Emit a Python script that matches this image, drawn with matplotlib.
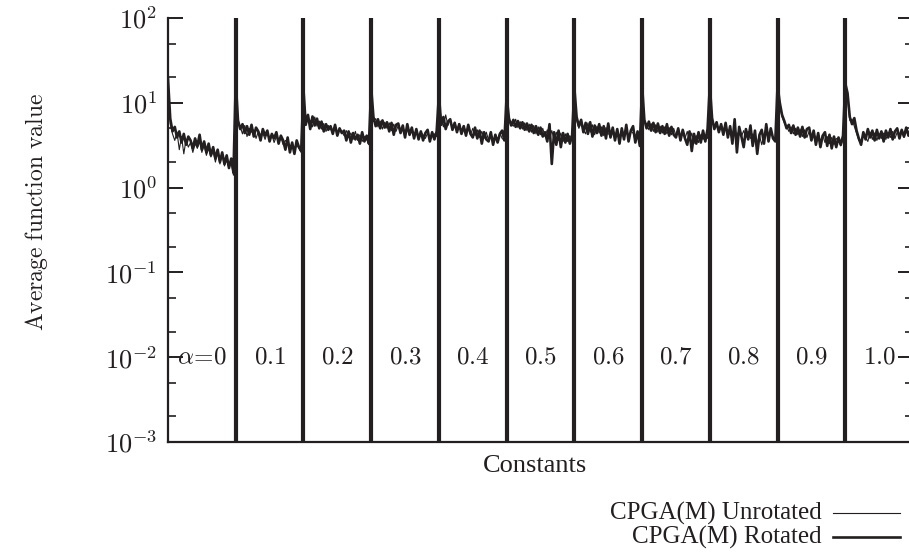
import numpy as np
import matplotlib
matplotlib.use("Agg")
import matplotlib.pyplot as plt
from matplotlib.lines import Line2D
from matplotlib.ticker import LogLocator, NullFormatter, FuncFormatter

plt.rcParams['mathtext.fontset'] = 'cm'
plt.rcParams['font.family'] = ['Liberation Serif', 'DejaVu Serif']

INK = '#231f20'
W, H = 909, 556

# Constant values (one block of runs per constant)
constants = [r'$\alpha\!=\!0$', '$0.1$', '$0.2$', '$0.3$', '$0.4$', '$0.5$',
             '$0.6$', '$0.7$', '$0.8$', '$0.9$', '$1.0$']

# Average function value per run, grouped by constant
rotated = [
    [19.0, 6.5, 4.6, 5.2, 3.9, 4.6, 3.4, 4.3, 3.2, 4.0, 3.6, 2.9, 3.8, 3.1, 4.2, 2.8, 3.5, 2.6, 3.3, 2.4, 3.0, 2.2, 2.8, 2.0, 2.6, 1.9, 2.4, 1.7, 2.2, 1.5],
    [18.0, 6.2, 4.9, 5.6, 4.4, 5.3, 4.2, 5.5, 4.0, 5.1, 4.6, 3.6, 4.9, 4.1, 4.7, 3.5, 4.3, 3.8, 4.5, 3.3, 4.1, 3.6, 2.8, 3.9, 2.6, 3.4, 2.5, 3.6, 3.0, 2.7],
    [14.5, 5.5, 7.2, 4.9, 6.9, 5.4, 6.5, 5.0, 6.0, 4.6, 5.6, 4.8, 5.3, 4.3, 5.5, 4.1, 5.0, 4.4, 4.7, 3.6, 4.6, 3.4, 4.4, 3.7, 4.2, 3.3, 4.5, 3.5, 4.1, 3.3],
    [15.0, 6.8, 5.3, 6.4, 5.0, 6.2, 5.1, 5.9, 4.6, 5.8, 4.2, 5.5, 5.7, 4.4, 5.4, 3.9, 5.6, 4.2, 5.1, 3.8, 4.9, 3.7, 4.6, 3.6, 4.4, 4.8, 3.5, 4.5, 3.7, 4.6],
    [12.5, 5.5, 6.8, 4.9, 6.0, 6.4, 4.8, 5.8, 4.5, 5.6, 4.3, 5.3, 4.1, 5.5, 4.3, 3.9, 5.1, 3.8, 4.7, 3.3, 4.5, 3.7, 3.5, 4.5, 3.2, 4.2, 3.4, 4.3, 4.7, 3.6],
    [12.0, 6.6, 5.4, 6.3, 5.2, 6.1, 5.0, 5.9, 4.8, 5.7, 4.6, 5.5, 4.4, 5.3, 4.2, 5.1, 4.0, 4.5, 3.5, 5.6, 1.9, 4.5, 3.2, 4.7, 3.0, 4.4, 3.4, 4.3, 3.3, 4.1],
    [15.0, 6.8, 5.3, 6.3, 4.5, 5.8, 4.3, 5.9, 4.0, 5.4, 4.4, 5.6, 4.1, 5.3, 3.8, 5.7, 3.9, 5.1, 3.6, 4.9, 3.3, 5.0, 3.7, 5.5, 3.5, 4.7, 5.3, 3.4, 4.6, 3.1],
    [16.0, 6.3, 5.0, 6.0, 4.7, 5.8, 4.5, 5.7, 4.4, 5.3, 4.3, 5.6, 4.1, 5.2, 4.2, 3.9, 5.0, 3.6, 4.8, 3.8, 3.2, 4.6, 2.7, 4.3, 3.3, 4.5, 3.4, 4.7, 3.5, 4.9],
    [16.0, 6.6, 4.9, 5.9, 4.5, 5.6, 4.2, 5.8, 3.9, 5.3, 3.3, 6.4, 2.6, 5.2, 4.0, 3.0, 4.9, 3.7, 5.4, 3.1, 4.7, 2.5, 4.2, 4.8, 3.3, 5.6, 3.5, 5.0, 3.8, 3.5],
    [16.0, 10.0, 7.2, 6.1, 5.0, 5.5, 4.4, 5.4, 4.2, 5.1, 4.0, 5.2, 3.9, 4.9, 5.1, 3.6, 4.7, 3.2, 4.4, 3.0, 4.1, 4.5, 3.1, 4.2, 2.9, 4.0, 3.0, 3.9, 3.2, 4.1],
    [17.0, 13.0, 6.8, 5.6, 6.6, 4.7, 3.8, 3.2, 4.5, 3.7, 4.9, 3.9, 4.7, 3.6, 4.8, 3.8, 4.6, 3.5, 4.7, 3.9, 4.9, 3.7, 4.6, 5.0, 3.8, 4.8, 4.0, 5.1, 4.1, 4.9],
]

unrotated = [
    [17.0, 5.6, 4.3, 3.6, 4.5, 2.8, 4.0, 2.5, 3.7, 3.0, 3.4, 2.6, 3.3, 2.9, 3.5, 2.6, 3.2, 2.4, 2.9, 2.3, 2.7, 2.0, 2.6, 1.9, 2.5, 1.8, 2.1, 1.7, 2.0, 1.4],
    [16.0, 5.8, 5.2, 4.3, 5.4, 4.0, 5.0, 4.5, 4.8, 3.8, 4.6, 4.2, 4.4, 3.7, 4.5, 3.6, 4.2, 3.4, 4.0, 3.5, 3.9, 3.2, 3.6, 3.4, 3.0, 3.3, 2.8, 3.2, 2.9, 2.6],
    [13.0, 6.0, 6.6, 6.2, 5.2, 6.8, 5.3, 6.1, 4.9, 5.7, 4.6, 5.4, 4.9, 4.5, 5.2, 4.3, 4.8, 4.6, 4.1, 4.7, 3.9, 4.4, 3.7, 4.6, 3.6, 4.2, 3.5, 4.0, 3.7, 3.2],
    [13.5, 6.0, 6.5, 5.2, 6.1, 4.9, 5.9, 5.0, 5.8, 4.7, 5.6, 4.6, 5.4, 4.4, 5.2, 4.3, 5.0, 4.1, 4.9, 4.0, 4.7, 3.9, 4.5, 4.2, 3.8, 4.4, 3.7, 4.1, 4.3, 4.0],
    [11.0, 6.5, 5.2, 7.2, 5.4, 6.4, 5.0, 5.9, 4.7, 5.7, 4.6, 5.4, 4.3, 5.2, 4.2, 5.0, 4.1, 4.8, 3.9, 4.6, 3.8, 4.5, 3.6, 4.4, 3.5, 4.2, 3.7, 4.4, 3.8, 3.6],
    [11.0, 6.2, 5.6, 5.3, 6.4, 5.1, 6.0, 4.9, 5.8, 4.7, 5.6, 4.5, 5.4, 4.3, 5.2, 4.2, 5.0, 4.0, 4.8, 3.8, 4.7, 3.7, 4.5, 3.6, 4.4, 3.5, 4.3, 3.5, 4.1, 3.6],
    [13.0, 6.2, 5.0, 6.0, 4.8, 4.3, 5.8, 4.5, 5.5, 4.2, 5.3, 4.4, 5.2, 4.1, 5.1, 4.3, 4.2, 5.0, 4.0, 4.9, 3.9, 4.7, 3.8, 4.8, 3.7, 4.6, 4.4, 3.6, 4.3, 3.5],
    [14.0, 5.9, 5.7, 4.8, 5.7, 4.6, 5.5, 4.5, 5.3, 4.4, 5.2, 4.3, 5.1, 4.2, 5.0, 4.1, 4.8, 3.9, 4.7, 3.8, 4.6, 3.6, 4.4, 3.3, 4.1, 3.4, 4.2, 3.7, 4.1, 3.8],
    [14.0, 6.1, 5.1, 5.6, 4.7, 5.5, 4.4, 5.3, 4.3, 5.1, 4.2, 4.9, 4.1, 4.8, 4.0, 4.7, 3.9, 4.6, 3.8, 4.3, 3.6, 3.4, 4.1, 3.2, 4.2, 4.5, 3.8, 4.6, 3.9, 3.7],
    [15.0, 9.0, 6.8, 5.8, 5.3, 4.6, 5.2, 4.3, 5.0, 4.2, 4.9, 4.0, 4.8, 3.9, 4.6, 3.8, 4.5, 3.6, 4.3, 3.5, 4.2, 3.4, 4.0, 3.3, 3.9, 3.2, 3.8, 3.6, 3.1, 3.7],
    [15.0, 11.0, 6.2, 6.4, 5.3, 4.4, 3.6, 3.4, 4.2, 3.9, 3.5, 4.5, 3.7, 4.4, 3.6, 4.3, 3.8, 4.4, 3.7, 4.5, 3.9, 4.6, 3.8, 4.5, 4.0, 4.7, 3.9, 4.6, 4.1, 4.7],
]


def block_x(blocks):
    xs = []
    for k, vals in enumerate(blocks):
        n = len(vals)
        xs.append(k + np.arange(n) / n)
    return np.concatenate(xs)


x_rot, y_rot = block_x(rotated), np.concatenate(rotated)
x_unr, y_unr = block_x(unrotated), np.concatenate(unrotated)

fig = plt.figure(figsize=(W / 100, H / 100), dpi=100)
ax = fig.add_axes([168 / W, (H - 442) / H, (913 - 168) / W, (442 - 18) / H])

ax.plot(x_rot, y_rot, color=INK, lw=1.9, zorder=2)
ax.plot(x_unr, y_unr, color=INK, lw=0.8, zorder=3)

# Separators between constants
for k in range(1, len(constants)):
    ax.axvline(k, color=INK, lw=3.0, zorder=4)

for k, lab in enumerate(constants):
    ax.text(k + 0.5, 1e-2, lab, ha='center', va='center', fontsize=18,
            color=INK, zorder=5)

ax.set_yscale('log')
ax.set_ylim(1e-3, 1e2)
ax.set_xlim(0, len(constants))
ax.set_xticks([])
ax.yaxis.set_major_locator(LogLocator(base=10, numticks=10))
ax.yaxis.set_major_formatter(
    FuncFormatter(lambda v, p: r'$10^{%d}$' % int(round(np.log10(v)))))
ax.yaxis.set_minor_locator(LogLocator(base=10, subs=(2.0, 5.0), numticks=10))
ax.yaxis.set_minor_formatter(NullFormatter())
ax.tick_params(axis='y', which='major', direction='in', length=11, width=1.4,
               right=True, labelsize=19, pad=8, colors=INK)
ax.tick_params(axis='y', which='minor', direction='in', length=6, width=1.2,
               right=True, colors=INK)

for s in ('left', 'bottom', 'right'):
    ax.spines[s].set_linewidth(1.6)
    ax.spines[s].set_color(INK)
ax.spines['top'].set_visible(False)

fig.text(37 / W, 1 - 212 / H, r'$\mathrm{Average\ function\ value}$',
         rotation=90, ha='center', va='center', fontsize=17, color=INK)
fig.text(535 / W, 1 - 466 / H, 'Constants', ha='center', va='center',
         fontsize=19, color=INK)

# Legend: right-aligned labels followed by line samples
legend_rows = [('CPGA(M) Unrotated', 0.8, 513), ('CPGA(M) Rotated', 1.9, 537)]
for label, lw, ypx in legend_rows:
    yf = 1 - ypx / H
    fig.text(822 / W, yf, label, ha='right', va='center', fontsize=18, color=INK)
    fig.add_artist(Line2D([833 / W, 900 / W], [yf, yf], color=INK, lw=lw,
                          transform=fig.transFigure))

fig.savefig('out.png', dpi=100)
